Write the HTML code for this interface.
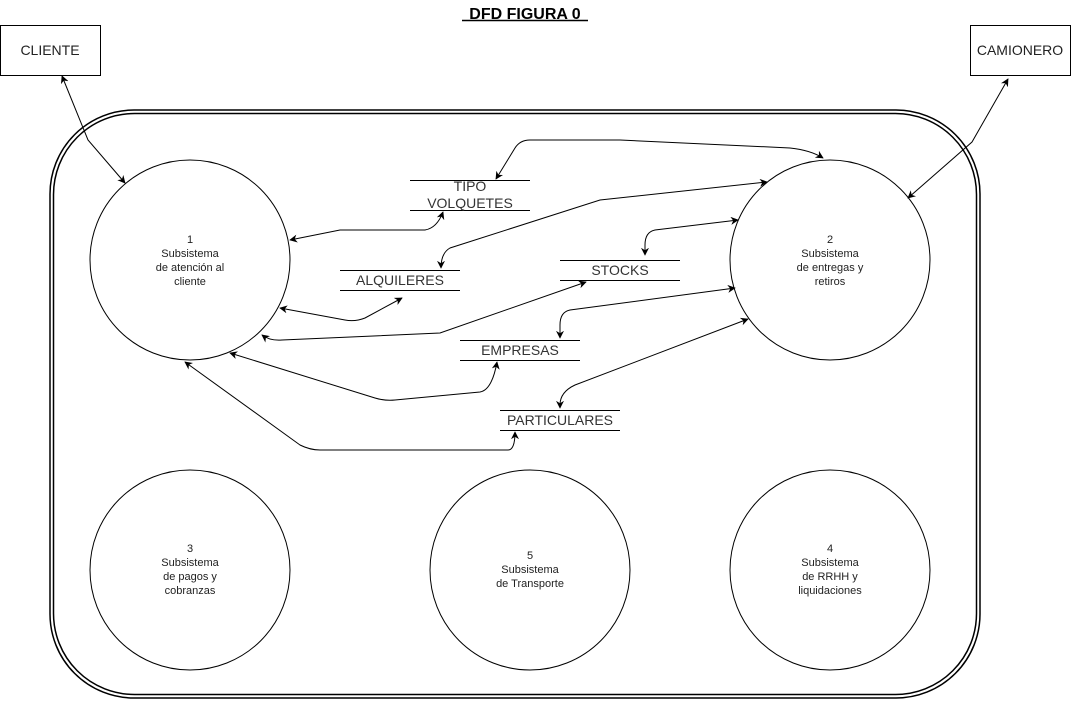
<!DOCTYPE html>
<html><head><meta charset="utf-8"><style>
html,body{margin:0;padding:0;background:#fff;}
svg{display:block;font-family:"Liberation Sans",Arial,sans-serif;}
</style></head><body>
<svg width="1071" height="702" viewBox="0 0 1071 702" xmlns="http://www.w3.org/2000/svg">
<defs>
<marker id="a" viewBox="0 0 10 10" refX="9" refY="5" markerWidth="8" markerHeight="8" orient="auto-start-reverse" markerUnits="userSpaceOnUse">
<path d="M0,0 L10,5 L0,10 L3,5 z" fill="#000"/>
</marker>
</defs>
<rect x="0" y="0" width="1071" height="702" fill="#fff"/>
<text x="525" y="19" text-anchor="middle" font-size="16" font-weight="bold">DFD FIGURA 0</text>
<line x1="462" y1="20.5" x2="588" y2="20.5" stroke="#000" stroke-width="1.5"/>

<rect x="50" y="110" width="930" height="588" rx="84" fill="none" stroke="#000" stroke-width="1.5"/>
<rect x="53.5" y="113.5" width="923" height="581" rx="81" fill="none" stroke="#000" stroke-width="1.5"/>

<rect x="0.5" y="25.5" width="100" height="50" fill="#fff" stroke="#000"/>
<text x="50" y="55" text-anchor="middle" font-size="14" fill="#222">CLIENTE</text>
<rect x="970.5" y="25.5" width="100" height="50" fill="#fff" stroke="#000"/>
<text x="1020" y="55" text-anchor="middle" font-size="14" fill="#222">CAMIONERO</text>

<g fill="#fff" stroke="#000">
<circle cx="190" cy="260" r="100"/>
<circle cx="830" cy="260" r="100"/>
<circle cx="190" cy="570" r="100"/>
<circle cx="530" cy="570" r="100"/>
<circle cx="830" cy="570" r="100"/>
</g>
<g font-size="11" text-anchor="middle" fill="#222">
<text x="190" y="243">1</text><text x="190" y="257">Subsistema</text><text x="190" y="271">de atención al</text><text x="190" y="285">cliente</text>
<text x="830" y="243">2</text><text x="830" y="257">Subsistema</text><text x="830" y="271">de entregas y</text><text x="830" y="285">retiros</text>
<text x="190" y="552">3</text><text x="190" y="566">Subsistema</text><text x="190" y="580">de pagos y</text><text x="190" y="594">cobranzas</text>
<text x="530" y="559">5</text><text x="530" y="573">Subsistema</text><text x="530" y="587">de Transporte</text>
<text x="830" y="552">4</text><text x="830" y="566">Subsistema</text><text x="830" y="580">de RRHH y</text><text x="830" y="594">liquidaciones</text>
</g>

<g stroke="#000" stroke-width="1">
<line x1="410" y1="180.5" x2="530" y2="180.5"/><line x1="410" y1="210.5" x2="530" y2="210.5"/>
<line x1="340" y1="270.5" x2="460" y2="270.5"/><line x1="340" y1="290.5" x2="460" y2="290.5"/>
<line x1="560" y1="260.5" x2="680" y2="260.5"/><line x1="560" y1="280.5" x2="680" y2="280.5"/>
<line x1="460" y1="340.5" x2="580" y2="340.5"/><line x1="460" y1="360.5" x2="580" y2="360.5"/>
<line x1="500" y1="410.5" x2="620" y2="410.5"/><line x1="500" y1="430.5" x2="620" y2="430.5"/>
</g>
<g font-size="14" text-anchor="middle" fill="#333">
<text x="470" y="191">TIPO</text><text x="470" y="208">VOLQUETES</text>
<text x="400" y="285">ALQUILERES</text>
<text x="620" y="275">STOCKS</text>
<text x="520" y="355">EMPRESAS</text>
<text x="560" y="425">PARTICULARES</text>
</g>

<g fill="none" stroke="#000" stroke-width="1" marker-start="url(#a)" marker-end="url(#a)">
<path d="M62,76 L88,140 L125,183"/>
<path d="M1008,79 L972,142 L908,198"/>
<path d="M496,179 L515,148 Q520,140 530,140 L620,140 L790,148 Q810,150 823,158"/>
<path d="M290,240 L340,230 L425,230 Q437,228 443,212"/>
<path d="M767,182 L600,200 L450,248 Q441,253 441,268"/>
<path d="M280,308 L345,320 Q355,322 365,318 L402,298"/>
<path d="M738,220 L655,230 Q645,232 645,245 L645,255"/>
<path d="M262,335 Q270,341 282,340 L440,333 L586,282"/>
<path d="M735,288 L570,310 Q560,312 560,325 L560,338"/>
<path d="M230,353 L375,398 Q385,401 395,400 L480,392 Q492,390 497,362"/>
<path d="M748,319 L575,385 Q560,392 560,405 L560,408"/>
<path d="M185,362 L300,445 Q310,450 320,450 L508,450 Q515,450 515,432"/>
</g>
</svg>
</body></html>
